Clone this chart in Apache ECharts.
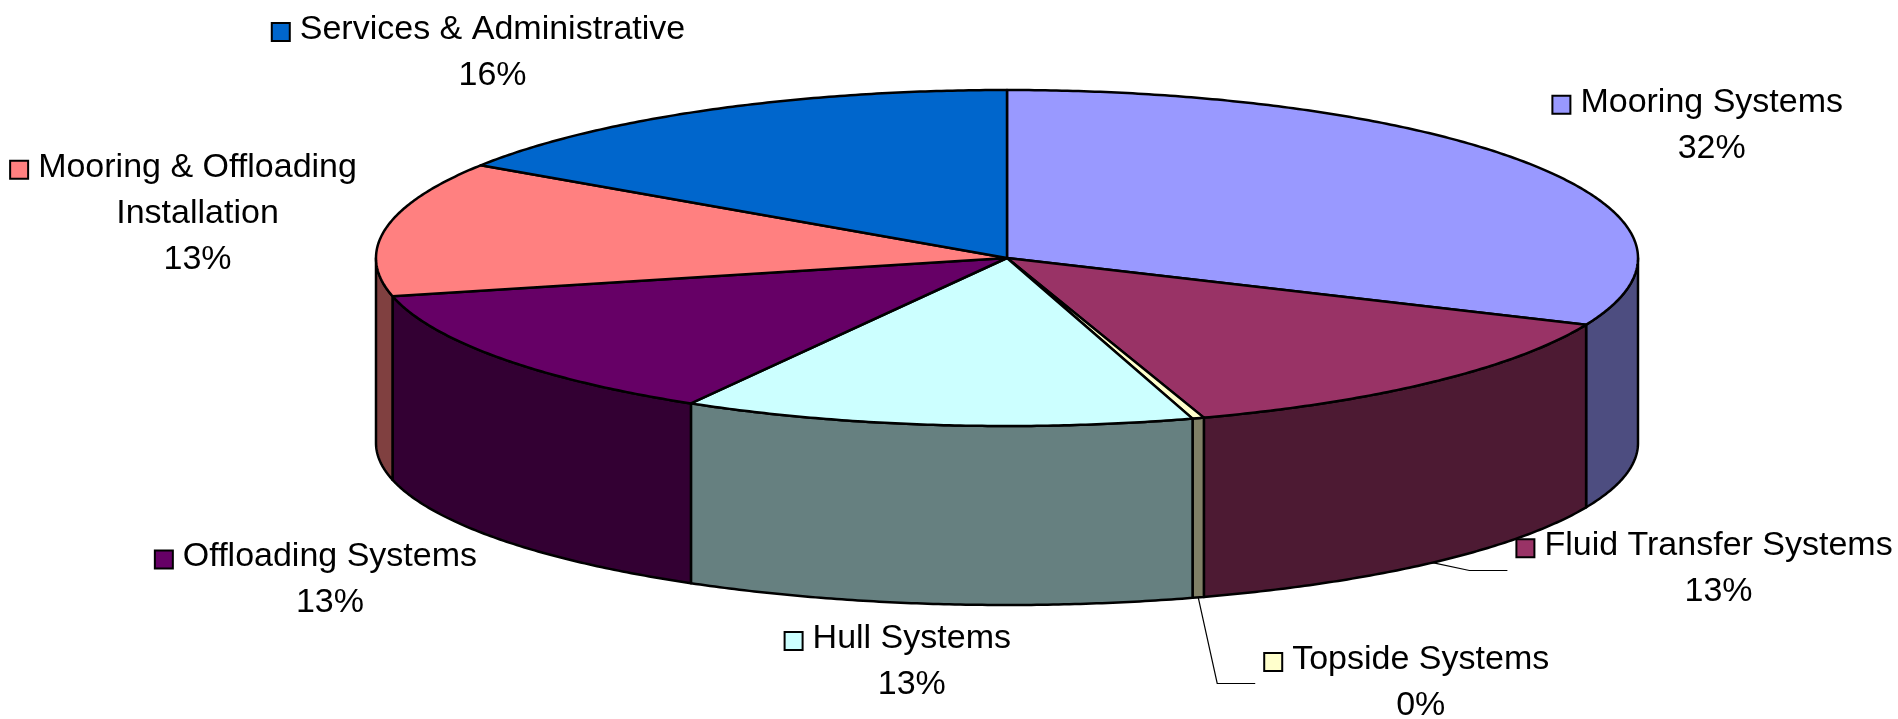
<!DOCTYPE html>
<html>
<head>
<meta charset="utf-8">
<script src="https://cdn.jsdelivr.net/npm/echarts@6/dist/echarts.min.js"></script>
<style>
html,body{margin:0;padding:0;background:#ffffff;}
#chart{width:1898px;height:719px;}
</style>
</head>
<body>
<div id="chart"></div>
<script>
// ---- data ----
const categories = ['Mooring Systems', 'Fluid Transfer Systems', 'Topside Systems', 'Hull Systems', 'Offloading Systems', 'Mooring & Offloading Installation', 'Services & Administrative'];
const labelLines = [['Mooring Systems'], ['Fluid Transfer Systems'], ['Topside Systems'], ['Hull Systems'], ['Offloading Systems'], ['Mooring & Offloading', 'Installation'], ['Services & Administrative']];
const values = [31.5, 13.45, 0.3, 13.1, 13.0, 12.95, 15.7];
const topColors = ['#9999FF', '#993366', '#FFFFCC', '#CCFFFF', '#660066', '#FF8080', '#0066CC'];
const sideColors = ['#4D4D80', '#4D1A33', '#808066', '#668080', '#330033', '#804040', '#003366'];

// ---- layout ----
const CX = 1007, CY = 258, RX = 631, RY = 168, DEPTH = 185, RYB = 162;
const FONT_SIZE = 34, LINE_H = 46, CAP = 24, DESC = 7, KEY = 18, KEY_GAP = 10;
const FONT = FONT_SIZE + 'px "Liberation Sans", Arial, Helvetica, sans-serif';
// label placement relative to each slice's outer anchor point
const labelLayout = [
  {h: 'left', v: 'bottom', dx: 16, dy: -1},
  {h: 'left', v: 'middle', dx: 82, dy: 7, leader: true},
  {h: 'left', v: 'middle', dx: 64, dy: 86, leader: true},
  {h: 'center', v: 'top', dx: -24, dy: 20},
  {h: 'right', v: 'top', dx: -23, dy: 3},
  {h: 'right', v: 'middle', dx: -29, dy: -14},
  {h: 'right', v: 'bottom', dx: -23, dy: -18}
];

const total = values.reduce((a, b) => a + b, 0);
const seriesData = [];
let acc = 90;
values.forEach((v, i) => {
  const span = v / total * 360;
  seriesData.push([v, acc, acc - span, i]);
  acc -= span;
});

const measureCtx = document.createElement('canvas').getContext('2d');
measureCtx.font = FONT;
function textWidth(s) { return measureCtx.measureText(s).width; }

function pt(deg, bottom) {
  const r = deg * Math.PI / 180;
  if (bottom) return [CX + RX * Math.cos(r), CY + DEPTH - RYB * Math.sin(r)];
  return [CX + RX * Math.cos(r), CY - RY * Math.sin(r)];
}
function arc(from, to, bottom) {
  const n = Math.max(2, Math.ceil(Math.abs(to - from) / 0.5));
  const out = [];
  for (let k = 0; k <= n; k++) out.push(pt(from + (to - from) * k / n, bottom));
  return out;
}

function renderSlice(params, api) {
  const i = api.value(3);
  const a0 = api.value(1), a1 = api.value(2);
  const children = [];
  const f0 = Math.min(a0, 0), f1 = Math.max(a1, -180);
  if (f0 > f1) {
    const pts = arc(f0, f1, false).concat(arc(f1, f0, true));
    children.push({type: 'polygon', shape: {points: pts},
      style: {fill: sideColors[i], stroke: '#000000', lineWidth: 2.5, lineJoin: 'round'}});
  }
  const topPts = [[CX, CY]].concat(arc(a0, a1, false));
  children.push({type: 'polygon', shape: {points: topPts},
    style: {fill: topColors[i], stroke: '#000000', lineWidth: 2.5, lineJoin: 'round'}});
  return {type: 'group', children: children};
}

function renderLabel(params, api) {
  const i = api.value(3);
  const a0 = api.value(1), a1 = api.value(2);
  const mid = (a0 + a1) / 2;
  const front = Math.sin(mid * Math.PI / 180) < 0;
  const anchor = pt(mid, front);
  const lay = labelLayout[i];
  const lines = labelLines[i].concat([Math.round(api.value(0) / total * 100) + '%']);
  const widths = lines.map(textWidth);
  // relative box: text centre x = 0, first baseline y = 0
  let left = -widths[0] / 2 - KEY_GAP - KEY - 2;
  widths.forEach(w => { left = Math.min(left, -w / 2); });
  let right = 0;
  widths.forEach(w => { right = Math.max(right, w / 2); });
  const top = -CAP, bottom = (lines.length - 1) * LINE_H + DESC;
  const ax = anchor[0] + lay.dx, ay = anchor[1] + lay.dy;
  const ox = lay.h === 'left' ? ax - left : (lay.h === 'right' ? ax - right : ax);
  const oy = lay.v === 'top' ? ay - top : (lay.v === 'bottom' ? ay - bottom : ay - (top + bottom) / 2);
  const children = [];
  lines.forEach((s, k) => {
    children.push({type: 'text', x: ox, y: oy + k * LINE_H - 9.5,
      style: {text: s, font: FONT, fill: '#000000', align: 'center', verticalAlign: 'middle',
        textAlign: 'center', textVerticalAlign: 'middle'}});
  });
  children.push({type: 'rect',
    shape: {x: ox - widths[0] / 2 - KEY_GAP - KEY, y: oy - 16, width: KEY, height: KEY},
    style: {fill: topColors[i], stroke: '#000000', lineWidth: 2}});
  if (lay.leader) {
    const bl = ox + left, my = Math.round(oy + (top + bottom) / 2) + 0.5;
    children.push({type: 'polyline',
      shape: {points: [anchor, [bl - 45, my], [bl - 7, my]]},
      style: {fill: null, stroke: '#000000', lineWidth: 1.2}});
  }
  return {type: 'group', children: children};
}

const chart = echarts.init(document.getElementById('chart'), null, {renderer: 'canvas'});
chart.setOption({
  backgroundColor: '#ffffff',
  animation: false,
  series: [
    {type: 'custom', coordinateSystem: 'none', renderItem: renderSlice, data: seriesData, silent: true},
    {type: 'custom', coordinateSystem: 'none', renderItem: renderLabel, data: seriesData, silent: true, z: 3}
  ]
});
</script>
</body>
</html>
